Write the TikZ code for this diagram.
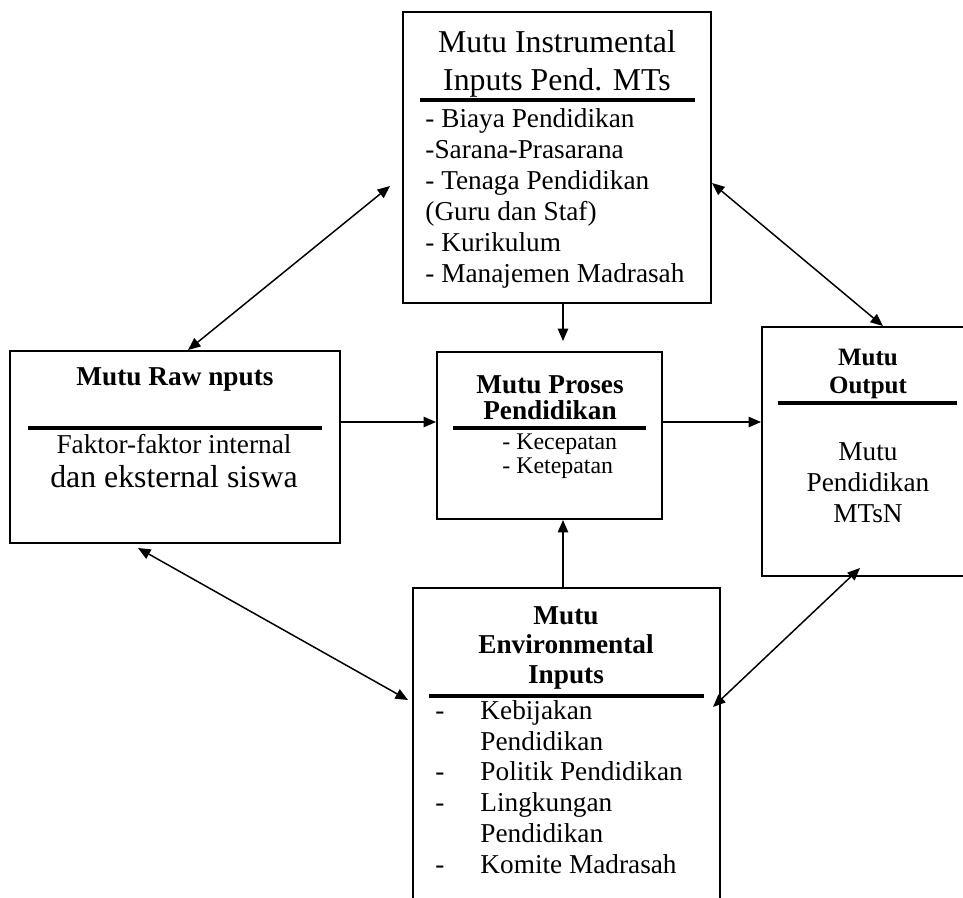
\documentclass[tikz,border=0pt]{standalone}
\usepackage{fontspec}
\setmainfont{Liberation Serif}
\usetikzlibrary{arrows.meta}
\newcommand{\px}{0.44pt}

\begin{document}
\begin{tikzpicture}[
    x=0.44pt, y=-0.44pt,
    box/.style={rectangle, draw=black, line width=0.85pt, inner sep=0pt},
    sep/.style={line width=1.6pt},
    ttl/.style={font=\fontsize{12}{12.8}\selectfont\bfseries, align=center, inner sep=0pt, anchor=base},
    txt/.style={font=\fontsize{12}{13.6}\selectfont, align=center, inner sep=0pt, anchor=base},
    arr/.style={-{Triangle[length=5.5pt, width=4.6pt]}, line width=0.65pt},
    biarr/.style={{Triangle[length=5.5pt, width=4.6pt]}-{Triangle[length=5.5pt, width=4.6pt]}, line width=0.65pt}
  ]
  \useasboundingbox (0,0) rectangle (963,897);
  \clip (0,0) rectangle (963,897);

  % boxes
  \node[box, minimum width=308*\px, minimum height=291*\px] (instr) at (557,157.5) {};
  \node[box, minimum width=330*\px, minimum height=192*\px] (raw) at (175,447) {};
  \node[box, minimum width=225*\px, minimum height=167*\px] (proses) at (549.5,435.5) {};
  \node[box, minimum width=240*\px, minimum height=249*\px] (out) at (882,451.5) {};
  \node[box, minimum width=307*\px, minimum height=332*\px] (env) at (566.5,754) {};

  % instrumental inputs (base = last line)
  \node[txt, font=\fontsize{14}{16.3}\selectfont] (instrT) at (557,90) {Mutu Instrumental\\Inputs Pend. MTs};
  \draw[sep] (420,100) -- (695,100);
  \node[txt, align=left, anchor=base west] (instrB) at (425,282) {- Biaya Pendidikan\\-Sarana-Prasarana\\- Tenaga Pendidikan\\(Guru dan Staf)\\- Kurikulum\\- Manajemen Madrasah};

  % raw inputs
  \node[ttl] (rawT) at (175,385) {Mutu Raw nputs};
  \draw[sep] (28,428) -- (322,428);
  \node[txt] (rawB) at (174,453) {Faktor-faktor internal};
  \node[txt, font=\fontsize{14}{16}\selectfont] (rawC) at (174,487) {dan eksternal siswa};

  % proses
  \node[ttl, font=\fontsize{12}{11.4}\selectfont\bfseries] (prosesT) at (550,419) {Mutu Proses\\Pendidikan};
  \draw[sep] (453,428) -- (646,428);
  \node[txt, font=\fontsize{10.5}{10.2}\selectfont, align=left, anchor=base west] (prosesB) at (502,473) {- Kecepatan\\- Ketepatan};

  % output
  \node[ttl, font=\fontsize{11}{12.3}\selectfont\bfseries] (outT) at (868,393) {Mutu\\Output};
  \draw[sep] (778,403) -- (957,403);
  \node[txt] (outB) at (868,522) {Mutu\\Pendidikan\\MTsN};

  % environmental inputs
  \node[ttl] (envT) at (566,683) {Mutu\\Environmental\\Inputs};
  \draw[sep] (429,696) -- (704,696);
  \node[txt, font=\fontsize{12}{13.5}\selectfont, align=left, anchor=base west] (envD) at (435,873) {-\\~\\-\\-\\~\\-};
  \node[txt, font=\fontsize{12}{13.5}\selectfont, align=left, anchor=base west] (envB) at (480,873) {Kebijakan\\Pendidikan\\Politik Pendidikan\\Lingkungan\\Pendidikan\\Komite Madrasah};

  % connectors
  \coordinate (riTip) at (390,186);
  \coordinate (ioTip) at (712,183);
  \coordinate (reTop) at (138,548);
  \coordinate (reTip) at (408,700);
  \coordinate (oeTop) at (860,568);
  \coordinate (oeTip) at (713,707);
  \draw[biarr] (raw.north -| 188,0) -- (riTip);
  \draw[biarr] (ioTip) -- (out.north -| 883,0);
  \draw[biarr] (reTop) -- (reTip);
  \draw[biarr] (oeTop) -- (oeTip);
  \draw[arr, shorten >=10*\px] (instr.south -| 563,0) -- (proses.north -| 563,0);
  \draw[arr] (env.north -| 563,0) -- (proses.south -| 563,0);
  \draw[arr] (raw.east |- 0,422) -- (proses.west |- 0,422);
  \draw[arr] (proses.east |- 0,422) -- (out.west |- 0,422);
\end{tikzpicture}
\end{document}
